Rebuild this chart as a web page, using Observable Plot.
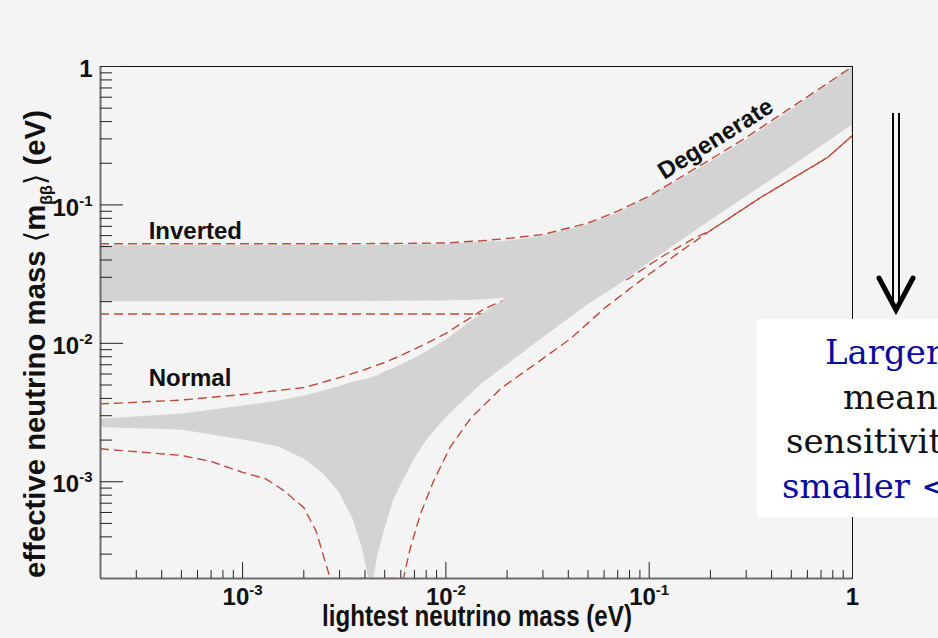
<!DOCTYPE html>
<html><head><meta charset="utf-8">
<script src="https://cdn.jsdelivr.net/npm/d3@7"></script>
<script src="https://cdn.jsdelivr.net/npm/@observablehq/plot@0.6"></script>
<style>
html,body{margin:0;padding:0;background:#f4f4f4;}
#wrap{position:relative;width:938px;height:638px;overflow:hidden;background:#f4f4f4;}
#note{position:absolute;left:757px;top:319px;width:181px;height:198px;background:#fff;overflow:hidden;font-family:"DejaVu Serif",serif;font-size:34px;}
#note div{position:absolute;white-space:nowrap;line-height:34px;}
.blue{color:#0b0b9e;}
.black{color:#111;}
</style></head><body>
<div id="wrap">
  <div id="note">
    <div class="blue" style="left:68px;top:16px">Larger T½</div>
    <div class="black" style="left:86px;top:61px">means better</div>
    <div class="black" style="left:29px;top:105px">sensitivity to</div>
    <div class="blue" style="left:25px;top:150px">smaller &lt;mββ&gt;</div>
  </div>
</div>
<script>
// ---------- axes ----------
const xDomain = [0.0002, 1];
const yDomain = [0.0002, 1];
const xTickValues = [0.001, 0.01, 0.1, 1];
const xTickLabels = ["10^-3", "10^-2", "10^-1", "1"];
const yTickValues = [0.001, 0.01, 0.1, 1];
const yTickLabels = ["10^-3", "10^-2", "10^-1", "1"];
const minorMultipliers = [2, 3, 4, 5, 6, 7, 8, 9];
const decades = [0.0001, 0.001, 0.01, 0.1];

// ---------- gray bands (best fit) ----------
const invX      = [0.0002, 0.001, 0.005, 0.01, 0.015, 0.0205];
const invTop    = [0.0503, 0.0504, 0.0509, 0.0515, 0.0535, 0.0545];
const invBottom = [0.0201, 0.0201, 0.0202, 0.0204, 0.0207, 0.0214];

const degX      = [0.0205, 0.03, 0.05, 0.07, 0.1, 0.2, 0.3, 0.5, 1];
const degTop    = [0.0545, 0.059, 0.0715, 0.0865, 0.113, 0.2018, 0.292, 0.481, 0.98];
const degBottom = [0.0072, 0.011, 0.0191, 0.0262, 0.0384, 0.0772, 0.115, 0.189, 0.381];

const normX      = [0.0002, 0.0005, 0.001, 0.0015, 0.002, 0.0025, 0.003, 0.0035, 0.0039, 0.0042, 0.0044, 0.0046, 0.005, 0.0055, 0.006, 0.007, 0.008, 0.01, 0.013, 0.015, 0.0205];
const normTop    = [0.00281, 0.00306, 0.00349, 0.0038, 0.00413, 0.00448, 0.00483, 0.00521, 0.00539, 0.00552, 0.00566, 0.00576, 0.00615, 0.00652, 0.00691, 0.0077, 0.00858, 0.0105, 0.0139, 0.0161, 0.0214];
const normBottom = [0.00248, 0.00238, 0.00202, 0.0018, 0.00147, 0.00115, 0.00084, 0.00054, 0.00033, 0.0002, 0.0002, 0.00029, 0.00046, 0.00073, 0.00095, 0.00147, 0.00199, 0.00291, 0.0042, 0.00512, 0.0072];

// ---------- 3 sigma dashed bounds ----------
const invUpperX = [0.0002, 0.003, 0.006, 0.01, 0.015, 0.02, 0.03, 0.05, 0.07, 0.1, 0.2, 0.3, 0.5, 1];
const invUpperY = [0.0524, 0.0524, 0.0527, 0.0531, 0.0551, 0.0572, 0.0611, 0.074, 0.0903, 0.1159, 0.213, 0.307, 0.506, 1];

const invLowerX = [0.0002, 0.005, 0.0155, 0.0196, 0.03, 0.05, 0.078, 0.1136, 0.1652, 0.2002, 0.3528, 0.7535, 1];
const invLowerY = [0.0163, 0.0163, 0.0163, 0.0204, 0.022, 0.026, 0.0289, 0.0417, 0.0572, 0.0653, 0.1131, 0.2201, 0.3172];

const normUpperX = [0.0002, 0.0005, 0.001, 0.002, 0.003, 0.004, 0.005, 0.006, 0.008, 0.01, 0.013, 0.015, 0.0173, 0.0196, 0.03];
const normUpperY = [0.00365, 0.00389, 0.00427, 0.00479, 0.00566, 0.00647, 0.00727, 0.00816, 0.00997, 0.0118, 0.0151, 0.0173, 0.0191, 0.0207, 0.032];

const normLowerX = [0.0002, 0.0005, 0.0007, 0.001, 0.0013, 0.0016, 0.002, 0.0023, 0.0025, 0.0027, 0.00618, 0.00647, 0.0067, 0.0075, 0.00872, 0.0105, 0.0132, 0.0186, 0.0282, 0.041, 0.061, 0.0906, 0.138, 0.2, 0.353, 0.754, 1, 1];
const normLowerY = [0.00173, 0.00155, 0.0014, 0.00117, 0.00105, 0.00086, 0.00065, 0.00044, 0.00029, 0.0002, 0.0002, 0.00027, 0.000336, 0.000586, 0.00102, 0.00178, 0.00286, 0.00471, 0.00727, 0.0108, 0.0182, 0.0284, 0.0446, 0.0653, 0.113, 0.22, 0.317, 0.42];

// ---------- labels ----------
const regionLabels = ["Inverted", "Normal"];
const regionLabelX = [0.000345, 0.000345];
const regionLabelY = [0.0642, 0.00557];
const degLabel = ["Degenerate"];
const degLabelX = [0.212];
const degLabelY = [0.300];

// ---------- build ----------
const band = (xs, lo, hi) => xs.map((x, i) => ({x, lo: lo[i], hi: hi[i]}));
const pts = (xs, ys) => xs.map((x, i) => ({x, y: ys[i]}));
const minor = decades.flatMap(d => minorMultipliers.map(m => m * d)).filter(v => v > 0.00020001 && v < 0.99999);

const GRAY = "#d3d3d3";
const RED = "#bd4b3b";
const dash = {x: "x", y: "y", stroke: RED, strokeWidth: 1.4, strokeDasharray: "8,6", clip: true};
const area = {x: "x", y1: "lo", y2: "hi", fill: GRAY, stroke: GRAY, strokeWidth: 0.8, clip: true};

const plotW = 938 - 100 - 86, plotH = 638 - 66 - 60;

const chart = Plot.plot({
  width: 938, height: 638,
  marginLeft: 100, marginRight: 86, marginTop: 66, marginBottom: 60,
  x: {type: "log", domain: xDomain, axis: null},
  y: {type: "log", domain: yDomain, axis: null},
  style: {background: "#f4f4f4", color: "#111", fontFamily: "'Liberation Sans', Arial, Helvetica, sans-serif"},
  marks: [
    Plot.line(pts(invLowerX, invLowerY), dash),
    Plot.line(pts(normUpperX, normUpperY), dash),
    Plot.areaY(band(invX, invBottom, invTop), area),
    Plot.areaY(band(degX, degBottom, degTop), area),
    Plot.areaY(band(normX, normBottom, normTop), area),
    Plot.line(pts(invUpperX, invUpperY), dash),
    Plot.line(pts(normLowerX, normLowerY), dash),
    // frame and axes
    Plot.frame({stroke: "#111", strokeWidth: 1}),
    Plot.ruleX([xDomain[0]], {stroke: "#6e6e6e", strokeWidth: 2}),
    Plot.ruleY([yDomain[0]], {stroke: "#6e6e6e", strokeWidth: 2}),
    Plot.ruleY(minor, {y: d => d, insetRight: plotW - 12, stroke: "#222", strokeWidth: 1}),
    Plot.ruleY(yTickValues, {y: d => d, insetRight: plotW - 23, stroke: "#222", strokeWidth: 1}),
    Plot.ruleX(minor, {x: d => d, insetTop: plotH - 8, stroke: "#222", strokeWidth: 1}),
    Plot.ruleX(xTickValues, {x: d => d, insetTop: plotH - 16, stroke: "#222", strokeWidth: 1}),
    // tick labels
    Plot.text(xTickValues, {x: d => d, text: (d, i) => xTickLabels[i], frameAnchor: "bottom", dy: 26, fontSize: 24, fontWeight: "bold", fill: "#111"}),
    Plot.text(yTickValues, {y: d => d, text: (d, i) => yTickLabels[i], frameAnchor: "left", dx: -8, dy: 3, textAnchor: "end", fontSize: 24, fontWeight: "bold", fill: "#111"}),
    // region labels
    Plot.text(regionLabels, {x: (d, i) => regionLabelX[i], y: (d, i) => regionLabelY[i], text: d => d, textAnchor: "start", fontSize: 24, fontWeight: "bold", fill: "#111"}),
    Plot.text(degLabel, {x: (d, i) => degLabelX[i], y: (d, i) => degLabelY[i], text: d => d, rotate: -32, textAnchor: "middle", fontSize: 24, fontWeight: "bold", fill: "#111"})
  ]
});

const wrap = document.getElementById("wrap");
wrap.insertBefore(chart, wrap.firstChild);
chart.style.position = "absolute";
chart.style.left = "0px";
chart.style.top = "0px";

// superscripts for 10^n tick labels
const ns = "http://www.w3.org/2000/svg";
chart.querySelectorAll("text").forEach(t => {
  const s = t.textContent;
  if (s.includes("^")) {
    const [base, exp] = s.split("^");
    t.textContent = "";
    const a = document.createElementNS(ns, "tspan"); a.textContent = base; t.appendChild(a);
    const b = document.createElementNS(ns, "tspan"); b.textContent = exp;
    b.setAttribute("font-size", "15"); b.setAttribute("dy", "-10"); t.appendChild(b);
  }
});

const svg = d3.select(chart);
const font = "'Liberation Sans', Arial, Helvetica, sans-serif";

// x title
const xt = svg.append("g");
const xtText = xt.append("text").attr("text-anchor", "middle").attr("font-family", font)
  .attr("font-weight", "bold").attr("font-size", 29).attr("fill", "#111")
  .text("lightest neutrino mass (eV)");
const xw = xtText.node().getComputedTextLength();
xt.attr("transform", `translate(477,626) scale(${310 / xw},1)`);

// y title
const yt = svg.append("g");
const ytText = yt.append("text").attr("text-anchor", "middle").attr("font-family", font)
  .attr("font-weight", "bold").attr("font-size", 29).attr("fill", "#111");
ytText.append("tspan").text("effective neutrino mass ");
ytText.append("tspan").attr("font-family", "'DejaVu Sans', sans-serif").attr("font-weight", "normal").text("\u27E8");
ytText.append("tspan").text("m");
ytText.append("tspan").attr("font-size", 16).attr("dy", 7).text("\u03B2\u03B2");
ytText.append("tspan").attr("dy", -7).attr("font-family", "'DejaVu Sans', sans-serif").attr("font-weight", "normal").text("\u27E9");
ytText.append("tspan").text(" (eV)");
const yw = ytText.node().getComputedTextLength();
yt.attr("transform", `translate(45,344) rotate(-90) scale(${468 / yw},1)`);

// double arrow (decoration)
const ar = svg.append("g").attr("stroke", "#000").attr("fill", "none");
ar.append("line").attr("x1", 893).attr("x2", 893).attr("y1", 113).attr("y2", 302).attr("stroke-width", 2);
ar.append("line").attr("x1", 899).attr("x2", 899).attr("y1", 113).attr("y2", 302).attr("stroke-width", 2);
ar.append("polyline").attr("points", "879,278 896,310 913,278").attr("stroke-width", 5)
  .attr("stroke-linecap", "round").attr("stroke-linejoin", "miter");
</script>
</body></html>
